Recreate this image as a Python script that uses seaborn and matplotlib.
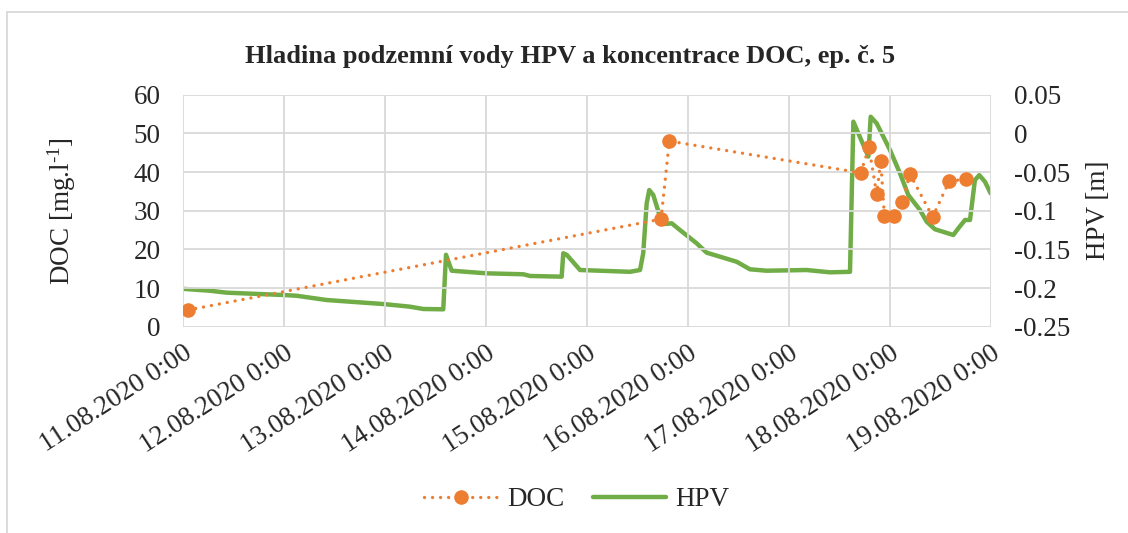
import pandas as pd
import matplotlib
matplotlib.use("Agg")
import matplotlib.pyplot as plt
import matplotlib.dates as mdates
from matplotlib.lines import Line2D
import seaborn as sns

# DOC odbery (mg/l)
doc_time = ["2020-08-11 01:12", "2020-08-15 17:40", "2020-08-15 19:38",
            "2020-08-17 17:07", "2020-08-17 19:05", "2020-08-17 20:54",
            "2020-08-17 21:52", "2020-08-17 22:45", "2020-08-18 01:02",
            "2020-08-18 03:00", "2020-08-18 04:48", "2020-08-18 10:12",
            "2020-08-18 14:10", "2020-08-18 18:07"]
doc_val = [4.3, 27.8, 48.0, 39.8, 46.4, 34.3, 42.8, 28.6, 28.6, 32.2, 39.5,
           28.4, 37.7, 38.1]

# hladina podzemni vody (m)
hpv_time = ["2020-08-11 00:00", "2020-08-11 06:29", "2020-08-11 10:27",
            "2020-08-11 23:54", "2020-08-12 03:06", "2020-08-12 10:13",
            "2020-08-12 23:40", "2020-08-13 06:00", "2020-08-13 09:10",
            "2020-08-13 13:55", "2020-08-13 14:34", "2020-08-13 15:55",
            "2020-08-14 00:14", "2020-08-14 08:56", "2020-08-14 10:32",
            "2020-08-14 18:03", "2020-08-14 18:26", "2020-08-14 19:15",
            "2020-08-14 22:25", "2020-08-15 10:17", "2020-08-15 12:40",
            "2020-08-15 13:26", "2020-08-15 14:15", "2020-08-15 14:52",
            "2020-08-15 15:49", "2020-08-15 17:25", "2020-08-15 18:36",
            "2020-08-15 20:12", "2020-08-15 22:10", "2020-08-16 02:08",
            "2020-08-16 04:31", "2020-08-16 07:41", "2020-08-16 11:38",
            "2020-08-16 14:48", "2020-08-16 18:46", "2020-08-17 04:16",
            "2020-08-17 09:49", "2020-08-17 14:34", "2020-08-17 15:22",
            "2020-08-17 18:55", "2020-08-17 19:29", "2020-08-17 20:54",
            "2020-08-18 00:04", "2020-08-18 02:27", "2020-08-18 04:25",
            "2020-08-18 07:12", "2020-08-18 08:47", "2020-08-18 10:45",
            "2020-08-18 15:07", "2020-08-18 16:18", "2020-08-18 17:54",
            "2020-08-18 19:05", "2020-08-18 20:15", "2020-08-18 21:17",
            "2020-08-18 22:38", "2020-08-18 23:59"]
hpv_val = [-0.201, -0.2035, -0.206, -0.209, -0.210, -0.2155, -0.2207, -0.2241,
           -0.2271, -0.2275, -0.157, -0.1776, -0.181, -0.1822, -0.1844,
           -0.1853, -0.155, -0.157, -0.1767, -0.179, -0.1767, -0.155, -0.0905,
           -0.0733, -0.0797, -0.1078, -0.1172, -0.1163, -0.125, -0.1422,
           -0.1543, -0.1595, -0.166, -0.1758, -0.1776, -0.1767, -0.1797,
           -0.179, 0.0151, -0.030, 0.0215, 0.013, -0.0215, -0.0517, -0.0797,
           -0.0991, -0.1142, -0.124, -0.1314, -0.1228, -0.112, -0.112,
           -0.0603, -0.054, -0.0625, -0.0776]

title = "Hladina podzemní vody HPV a koncentrace DOC, ep. č. 5"
orange = "#ED7D31"
green = "#70AD47"
gridc = "#D9D9D9"
fs = 19.5

doc = pd.DataFrame({"cas": pd.to_datetime(doc_time), "DOC": doc_val})
hpv = pd.DataFrame({"cas": pd.to_datetime(hpv_time), "HPV": hpv_val})

sns.set_style("white")
plt.rcParams["font.family"] = ["Liberation Serif", "DejaVu Serif"]
plt.rcParams["mathtext.fontset"] = "custom"
plt.rcParams["mathtext.rm"] = "Liberation Serif"
plt.rcParams["mathtext.it"] = "Liberation Serif:italic"

W, H = 1128, 533
fig = plt.figure(figsize=(W / 100, H / 100), dpi=100)
x0, x1, y0, y1 = 182.7, 990.7, 94.7, 326.7
ax = fig.add_axes([x0 / W, 1 - y1 / H, (x1 - x0) / W, (y1 - y0) / H])
ax2 = ax.twinx()

sns.lineplot(data=hpv, x="cas", y="HPV", ax=ax2, color=green, linewidth=3.2,
             estimator=None, sort=False, solid_joinstyle="round")
sns.lineplot(data=doc, x="cas", y="DOC", ax=ax, color=orange, linewidth=2.4,
             estimator=None, sort=False, marker="o", markersize=10.5,
             markeredgewidth=0, linestyle=(0, (0.01, 2.4)),
             dash_capstyle="round")
ax.set_zorder(ax2.get_zorder() + 1)
ax.patch.set_visible(False)

ax.set_xlim(pd.Timestamp("2020-08-11"), pd.Timestamp("2020-08-19"))
ax.set_ylim(0, 60)
ax2.set_ylim(-0.25, 0.05)
ax.set_yticks(range(0, 61, 10))
ax2.set_yticks([-0.25, -0.2, -0.15, -0.1, -0.05, 0, 0.05])
ax2.set_yticklabels(["-0.25", "-0.2", "-0.15", "-0.1", "-0.05", "0", "0.05"])

ax.xaxis.set_major_locator(mdates.DayLocator())
ax.xaxis.set_major_formatter(
    plt.FuncFormatter(lambda v, p: mdates.num2date(v).strftime("%d.%m.%Y") + " 0:00"))

ax.grid(True, color=gridc, linewidth=1.3)
ax.set_axisbelow(True)
for a in (ax, ax2):
    for s in a.spines.values():
        s.set_visible(False)
ax.tick_params(axis="x", length=5, width=1.3, color=gridc, pad=5, labelsize=fs)
ax.tick_params(axis="y", length=0, pad=16, labelsize=fs)
ax2.tick_params(axis="y", length=0, pad=17, labelsize=fs)
for lab in ax.get_xticklabels():
    lab.set_rotation(33)
    lab.set_ha("right")
    lab.set_va("top")
    lab.set_rotation_mode("anchor")

ax.set_xlabel("")
ax.set_ylabel(r"DOC [mg.l$^{\text{-1}}$]", fontsize=fs, labelpad=40)
ax2.set_ylabel("HPV [m]", fontsize=fs, labelpad=11)

fig.text(0.5 + 6 / W, 1 - 56 / H, title, ha="center", va="center",
         fontsize=19, fontweight="bold")

handles = [Line2D([], [], color=orange, linewidth=2.4, linestyle=(0, (0.01, 2.4)),
                  dash_capstyle="round", marker="o", markersize=10.5,
                  markeredgewidth=0),
           Line2D([], [], color=green, linewidth=3.2, solid_capstyle="round")]
fig.legend(handles, ["DOC", "HPV"], loc="center", bbox_to_anchor=(577 / W, 1 - 500 / H),
           ncol=2, frameon=False, fontsize=fs, handlelength=2.7,
           handletextpad=0.35, columnspacing=1.05)

# okraj grafu
fig.add_artist(Line2D([7 / W, 1], [1 - 12 / H, 1 - 12 / H], color=gridc, linewidth=1.3))
fig.add_artist(Line2D([7 / W, 7 / W], [0, 1 - 12 / H], color=gridc, linewidth=1.3))

fig.savefig("out.png", dpi=100)
